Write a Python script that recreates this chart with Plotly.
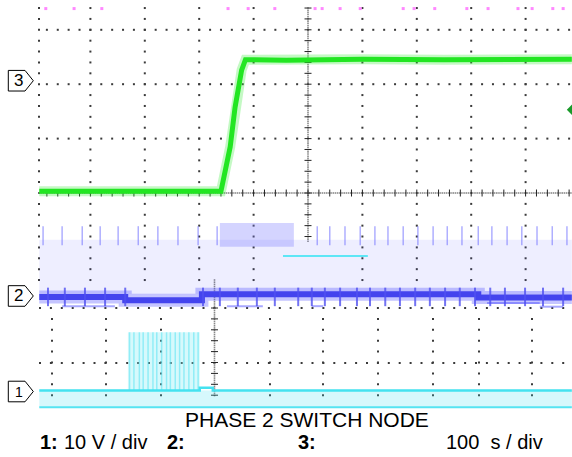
import plotly.graph_objects as go

W, H = 572, 457
XPX0, PXDIV, YPX0 = 36.0, 54.4, 193.0


def X(px):
    return (px - XPX0) / PXDIV


def Y(py):
    return (YPX0 - py) / PXDIV


# ---------------- data (in scope divisions) ----------------
# Channel 3 (green): low level, fast ramp, high level
ch3_t = [0.06, 3.40, 3.57, 3.66, 3.78, 3.85, 4.6, 6.0, 7.5, 9.85]
ch3_v = [0.03, 0.03, 0.85, 1.58, 2.26, 2.45, 2.44, 2.46, 2.45, 2.46]

# Channel 2 (blue): switch-node band level
ch2_t = [0.06, 1.64, 1.64, 3.05, 3.05, 8.13, 8.13, 9.85]
ch2_v = [-1.91, -1.91, -1.97, -1.97, -1.86, -1.86, -1.92, -1.92]
ch2_down_spikes_t = [0.22, 0.53, 0.90, 1.27, 1.64, 3.07, 3.38, 3.71, 4.06, 4.39,
                     4.82, 5.07, 5.31, 5.59, 5.90, 6.14, 6.42, 6.69, 6.97, 7.24,
                     7.52, 7.79, 8.07, 8.35, 8.62, 8.99, 9.32, 9.69]
ch2_spike_lo, ch2_spike_hi = -2.08, -1.74
ch2_up_spikes_t = [0.13, 0.48, 0.85, 1.18, 1.51, 1.88, 2.24, 2.61, 2.98, 3.33,
                   5.17, 5.40, 5.68, 5.96, 6.23, 6.47, 6.75, 7.02, 7.30, 7.56,
                   7.83, 8.13, 8.38, 8.66, 8.93, 9.21, 9.49, 9.76]
ch2_up_lo, ch2_up_hi = -0.96, -0.61
ch2_burst_t = [3.38, 4.74]
ch2_burst_v = [-0.99, -0.55]
ch2_cloud_t = [0.06, 9.85]
ch2_cloud_v = [-1.86, -0.86]
ch2_cyan_t = [4.54, 6.10]
ch2_cyan_v = -1.16
ch2_low_segs = [([0.48, 1.45], -2.08), ([3.51, 4.17], -2.08), ([5.07, 5.28], -2.08),
                ([8.29, 9.26], -2.02), ([9.26, 9.69], -2.09)]

# Channel 1 (cyan): noisy baseline with a burst
ch1_t = [0.06, 3.01, 3.01, 3.25, 3.25, 9.85]
ch1_v = [-3.63, -3.63, -3.58, -3.58, -3.63, -3.63]
ch1_low_t = [0.06, 9.85]
ch1_low_v = [-3.94, -3.94]
ch1_burst_t = [1.69, 3.01]
ch1_burst_v = [-3.63, -2.56]
ch1_burst_lines_t = [1.72, 1.80, 1.90, 1.97, 2.06, 2.15, 2.22, 2.31, 2.40, 2.47,
                     2.56, 2.64, 2.72, 2.81, 2.90, 2.98]

# Channel 4 (magenta): sparse dots at top edge
ch4_t = [0.18, 0.70, 1.21, 3.53, 3.90, 4.39, 5.13, 5.26, 5.59, 5.96,
         6.75, 6.95, 7.33, 7.92, 8.31, 8.86, 9.12, 9.50, 9.69]
ch4_v = 3.39

# Channel ground markers
ground_ch = ["3", "2", "1"]
ground_lvl = [2.064, -1.893, -3.649]
trig_level = 1.53

fig = go.Figure()

# ---------------- graticule (decoration) ----------------
gx, gy = [], []
up_cols = [39] + [36 + 54.4 * k for k in range(1, 10)]
up_rows = [193 - 10.88 * j for j in range(-8, 18)]
for c in up_cols:
    if abs(c - 308) < 1:
        continue
    for r in up_rows:
        gx.append(X(c)); gy.append(Y(r))
for r in [193 - 54.4 * k for k in (1, 2, 3)]:
    for i in range(1, 50):
        gx.append(X(36 + 10.88 * i)); gy.append(Y(r))
low_cols = [52, 106, 161, 270, 323, 378, 433, 479, 532]
for c in low_cols:
    for j in range(1, 9):
        gx.append(X(c)); gy.append(Y(308 + 10.9 * j))
for r in (308, 363):
    for i in range(0, 49):
        gx.append(X(40 + 10.9 * i)); gy.append(Y(r))
fig.add_trace(go.Scatter(x=gx, y=gy, mode="markers", hoverinfo="skip",
                         marker=dict(symbol="square", size=2, color="#3a3a3a", line=dict(width=0))))

# dense centre lines
dx, dy = [], []
p = 39.0
while p < 572:
    dx.append(X(p)); dy.append(Y(193)); p += 2.18
p = 8.0
while p < 243:
    dx.append(X(308)); dy.append(Y(p)); p += 2.18
p = 280.0
while p < 397:
    dx.append(X(214.5)); dy.append(Y(p)); p += 2.18
fig.add_trace(go.Scatter(x=dx, y=dy, mode="markers", hoverinfo="skip",
                         marker=dict(symbol="square", size=1.6, color="#8a8a8a", line=dict(width=0))))
tx, ty = [], []
for i in range(1, 50):
    tx.append(X(36 + 10.88 * i)); ty.append(Y(193))
fig.add_trace(go.Scatter(x=tx, y=ty, mode="markers", hoverinfo="skip",
                         marker=dict(symbol="line-ns", size=5, line=dict(width=1, color="#222"))))
tx, ty = [], []
for j in range(-4, 18):
    tx.append(X(308)); ty.append(Y(193 - 10.88 * j))
for j in range(0, 9):
    tx.append(X(214.5)); ty.append(Y(308 + 10.9 * j))
fig.add_trace(go.Scatter(x=tx, y=ty, mode="markers", hoverinfo="skip",
                         marker=dict(symbol="line-ew", size=5, line=dict(width=1, color="#222"))))

# ---------------- channel 2 ----------------
fig.add_trace(go.Scatter(x=[ch2_cloud_t[0], ch2_cloud_t[1], ch2_cloud_t[1], ch2_cloud_t[0], ch2_cloud_t[0]],
                         y=[ch2_cloud_v[0], ch2_cloud_v[0], ch2_cloud_v[1], ch2_cloud_v[1], ch2_cloud_v[0]],
                         fill="toself", mode="none", fillcolor="rgba(90,90,255,0.10)", hoverinfo="skip"))
fig.add_trace(go.Scatter(x=[ch2_burst_t[0], ch2_burst_t[1], ch2_burst_t[1], ch2_burst_t[0], ch2_burst_t[0]],
                         y=[ch2_burst_v[0], ch2_burst_v[0], ch2_burst_v[1], ch2_burst_v[1], ch2_burst_v[0]],
                         fill="toself", mode="none", fillcolor="rgba(120,120,255,0.32)", hoverinfo="skip"))
ux, uy = [], []
for t in ch2_up_spikes_t:
    ux += [t, t, None]; uy += [ch2_up_lo, ch2_up_hi, None]
fig.add_trace(go.Scatter(x=ux, y=uy, mode="lines", hoverinfo="skip",
                         line=dict(color="rgba(110,110,255,0.55)", width=1.5)))
fig.add_trace(go.Scatter(x=ch2_cyan_t, y=[ch2_cyan_v] * 2, mode="lines", hoverinfo="skip",
                         line=dict(color="#5ee6f6", width=2)))
for seg, lv in ch2_low_segs:
    fig.add_trace(go.Scatter(x=seg, y=[lv, lv], mode="lines", hoverinfo="skip",
                             line=dict(color="rgba(110,110,255,0.6)", width=2)))
fig.add_trace(go.Scatter(x=ch2_t, y=ch2_v, mode="lines", hoverinfo="skip",
                         line=dict(color="rgba(90,90,255,0.35)", width=13)))
fig.add_trace(go.Scatter(x=ch2_t, y=ch2_v, mode="lines", hoverinfo="skip",
                         line=dict(color="#4444ee", width=6)))
sx, sy = [], []
for t in ch2_down_spikes_t:
    sx += [t, t, None]; sy += [ch2_spike_lo, ch2_spike_hi, None]
fig.add_trace(go.Scatter(x=sx, y=sy, mode="lines", hoverinfo="skip",
                         line=dict(color="rgba(80,80,240,0.8)", width=2)))

# ---------------- channel 1 ----------------
fig.add_trace(go.Scatter(x=[ch1_low_t[0], ch1_low_t[1], ch1_low_t[1], ch1_low_t[0]],
                         y=[ch1_low_v[0], ch1_low_v[1], ch1_v[-1], ch1_v[0]],
                         fill="toself", mode="none", fillcolor="rgba(70,225,240,0.22)", hoverinfo="skip"))
fig.add_trace(go.Scatter(x=[ch1_burst_t[0], ch1_burst_t[1], ch1_burst_t[1], ch1_burst_t[0], ch1_burst_t[0]],
                         y=[ch1_burst_v[0], ch1_burst_v[0], ch1_burst_v[1], ch1_burst_v[1], ch1_burst_v[0]],
                         fill="toself", mode="none", fillcolor="rgba(120,235,245,0.30)", hoverinfo="skip"))
bx, by = [], []
for t in ch1_burst_lines_t:
    bx += [t, t, None]; by += [ch1_burst_v[0], ch1_burst_v[1], None]
fig.add_trace(go.Scatter(x=bx, y=by, mode="lines", hoverinfo="skip",
                         line=dict(color="rgba(90,228,242,0.55)", width=1.5)))
fig.add_trace(go.Scatter(x=ch1_low_t, y=ch1_low_v, mode="lines", hoverinfo="skip",
                         line=dict(color="#55e4f2", width=2)))
fig.add_trace(go.Scatter(x=ch1_t, y=ch1_v, mode="lines", hoverinfo="skip",
                         line=dict(color="#44e2f0", width=2.5)))

# ---------------- channel 3 ----------------
fig.add_trace(go.Scatter(x=ch3_t, y=ch3_v, mode="lines", hoverinfo="skip",
                         line=dict(color="rgba(60,235,60,0.3)", width=10)))
fig.add_trace(go.Scatter(x=ch3_t, y=ch3_v, mode="lines", hoverinfo="skip",
                         line=dict(color="#22e622", width=5)))
fig.add_trace(go.Scatter(x=[X(574)], y=[trig_level], mode="markers", hoverinfo="skip",
                         marker=dict(symbol="diamond", size=11, color="#1a9a2a")))

# ---------------- channel 4 ----------------
fig.add_trace(go.Scatter(x=ch4_t, y=[ch4_v] * len(ch4_t), mode="markers", hoverinfo="skip",
                         marker=dict(symbol="square", size=3, color="#ff88ff", line=dict(width=0))))

# ---------------- ground markers ----------------
shapes, annos = [], []
for lab, lv in zip(ground_ch, ground_lvl):
    hh = 10.3 / PXDIV
    path = (f"M {X(8.3)},{lv - hh} L {X(25)},{lv - hh} L {X(33.3)},{lv} "
            f"L {X(25)},{lv + hh} L {X(8.3)},{lv + hh} Z")
    shapes.append(dict(type="path", path=path, xref="x", yref="y",
                       line=dict(color="#000", width=1), fillcolor="white"))
    annos.append(dict(x=X(18.5), y=lv, xref="x", yref="y", text=lab, showarrow=False,
                      font=dict(family="Liberation Sans, Arial", size=17 if lab != "1" else 14, color="#000"),
                      xanchor="center", yanchor="middle"))

FONT = "Liberation Sans, Arial, sans-serif"


def txt(px, py, s, size=20, anchor="left"):
    annos.append(dict(x=px / W, y=1 - py / H, xref="paper", yref="paper", text=s,
                      showarrow=False, xanchor=anchor, yanchor="middle",
                      font=dict(family=FONT, size=size, color="#000")))


txt(306.5, 419.5, "PHASE 2 SWITCH NODE", 21, "center")
txt(38, 441.5, "<b>1:</b>")
txt(62, 441.5, "10 V / div")
txt(165, 441.5, "<b>2:</b>")
txt(296, 441.5, "<b>3:</b>")
txt(444, 441.5, "100\u00a0\u00a0s / div")

fig.update_layout(
    width=W, height=H, margin=dict(l=0, r=0, t=0, b=0),
    paper_bgcolor="white", plot_bgcolor="white", showlegend=False,
    xaxis=dict(range=[X(0), X(W)], visible=False, fixedrange=True),
    yaxis=dict(range=[Y(H), Y(0)], visible=False, fixedrange=True),
    shapes=shapes, annotations=annos,
)
fig.write_html(
    "out.html",
    config={"displayModeBar": False},
    post_script="document.body.style.margin='0';document.body.style.overflow='hidden';",
)
